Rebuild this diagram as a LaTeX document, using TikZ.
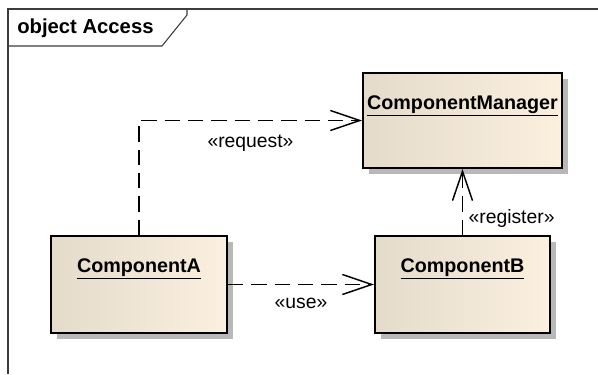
\documentclass[tikz,border=0pt]{standalone}
\usepackage{fontspec}
\setmainfont{Liberation Sans}
\usepackage{tikz}
\usetikzlibrary{arrows.meta,positioning,shadows}
\definecolor{cmDark}{RGB}{229,219,203}
\definecolor{cmLight}{RGB}{251,240,222}
\definecolor{frameGray}{RGB}{60,60,60}
\tikzset{
  compbox/.style={draw, rectangle, line width=1.5pt, left color=cmDark, middle color=cmLight, right color=cmLight,
    drop shadow={shadow xshift=4.5pt, shadow yshift=-4.5pt, fill=black!28, opacity=1}},
  compname/.style={anchor=base, inner sep=0pt, font=\fontsize{14.8}{17}\selectfont\bfseries},
  dep/.style={-{Straight Barb[length=22pt, width=15pt, line width=1.1pt]}, line width=1.1pt, dash pattern=on 11.5pt off 6pt},
  deplabel/.style={font=\fontsize{14.5}{17}\selectfont, inner sep=2pt},
  framebox/.style={draw=frameGray, line width=0.8pt}
}

\begin{document}
\begin{tikzpicture}[x=0.75pt,y=-0.75pt]
  \useasboundingbox (0,0) rectangle (598,374);
  % frame
  \draw[framebox] (8,374) -- (8,9) -- (598,9);
  \draw[framebox] (8,46) -- (162,46) -- (187,15) -- (187,9);
  \node[anchor=base west, inner sep=0pt, font=\fontsize{15.2}{17}\selectfont\bfseries] (frametitle) at (17,34) {object Access};
  % components
  \node[compbox, minimum width=149.25pt, minimum height=71.25pt] (cmMgr) at (462.5,120.5) {};
  \node[compbox, minimum width=132pt, minimum height=72.75pt] (cmA) at (139,284.5) {};
  \node[compbox, minimum width=131.25pt, minimum height=72.75pt] (cmB) at (462.5,284.5) {};
  \node[compname] at ([yshift=-27.75pt]cmMgr.north) {\underline{ComponentManager}};
  \node[compname] at ([yshift=-27.75pt]cmA.north) {\underline{ComponentA}};
  \node[compname] at ([yshift=-27.75pt]cmB.north) {\underline{ComponentB}};
  % dependencies
  \draw[dep] (cmA.north) |- node[deplabel, below, pos=0.75, yshift=-8pt]{«request»} (cmMgr.west);
  \draw[dep] (cmA.east) -- node[deplabel, below, yshift=-8pt]{«use»} (cmB.west);
  \draw[dep] (cmB.north) -- node[deplabel, right, pos=0.25, xshift=2pt]{«register»} (cmMgr.south);
\end{tikzpicture}
\end{document}
